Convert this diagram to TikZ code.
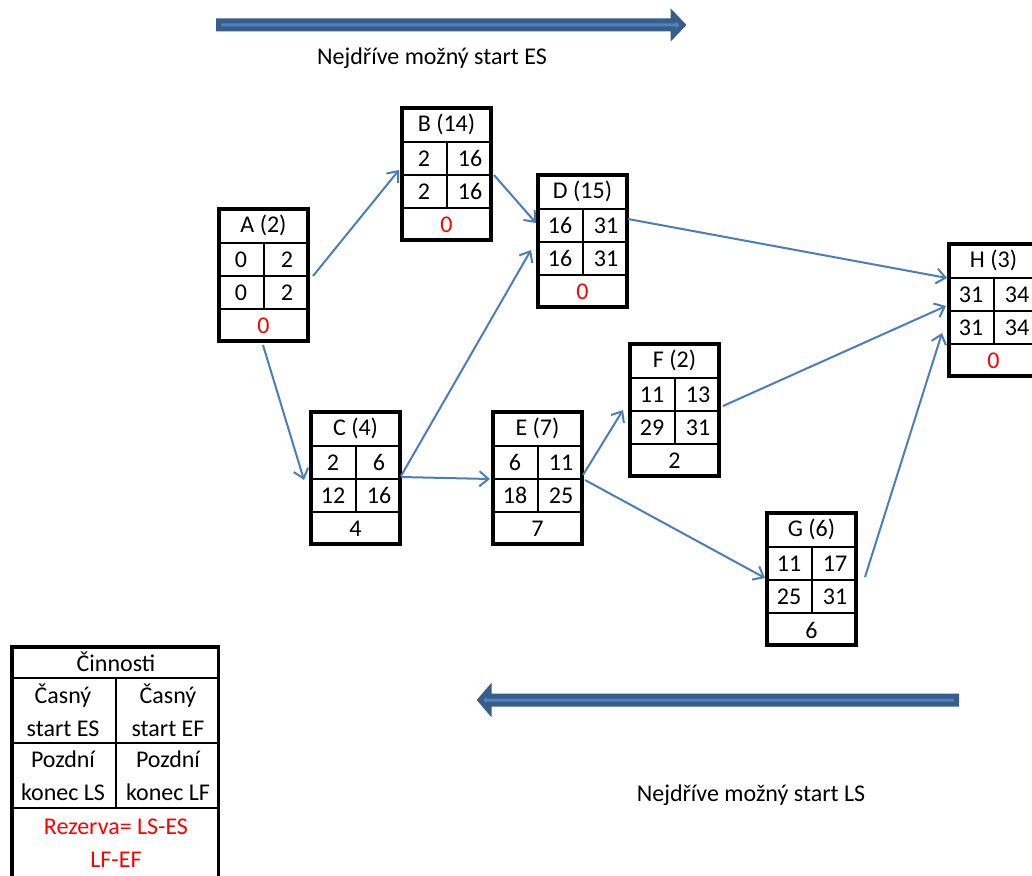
\documentclass[tikz,border=0pt]{standalone}
\usepackage{fontspec}
\setmainfont{Carlito}
\usetikzlibrary{arrows.meta,calc}
\definecolor{linkblue}{HTML}{4A7EBB}
\definecolor{bandfill}{HTML}{4F81BD}
\definecolor{bandedge}{HTML}{385D8A}
\newcommand\crit[1]{\textcolor{red}{#1}}
% activity box: name, x, y (outer top-left), title, ES, EF, LS, LF, slack
\newcommand\actbox[9]{%
  \begin{scope}[shift={(#2,#3)}]
    \draw[gridline] (0,36) -- (93,36) (0,69) -- (93,69) (0,102) -- (93,102)
      (47,36) -- (47,102);
    \node[boxframe] (#1) at (46.5,68) {};
    \node[celltext] (#1-t)  at (46.5,18.5) {#4};
    \node[celltext] (#1-es) at (24,52.5) {#5};
    \node[celltext] (#1-ef) at (70,52.5) {#6};
    \node[celltext] (#1-ls) at (24,85.5) {#7};
    \node[celltext] (#1-lf) at (70,85.5) {#8};
    \node[celltext] (#1-r)  at (46.5,119) {#9};
  \end{scope}}
\tikzset{
  gridline/.style={line width=2pt},
  boxframe/.style={draw, line width=4pt, minimum width=89pt, minimum height=132pt, inner sep=0pt},
  celltext/.style={inner sep=0pt, font=\fontsize{24}{28}\selectfont},
  legendtext/.style={inner sep=0pt, align=center, font=\fontsize{24}{33}\selectfont},
  bandtext/.style={inner sep=0pt, font=\fontsize{24}{28}\selectfont},
  link/.style={linkblue, line width=2pt, -{Straight Barb[length=9pt,width=15pt]}},
  band/.style={fill=bandfill, draw=bandedge, line width=5pt, line join=miter},
}
\begin{document}
\begin{tikzpicture}[x=1pt,y=-1pt]
\clip (0,0) rectangle (1032,875);
\fill[white] (0,0) rectangle (1032,875);

% direction bands
\draw[band] (218.5,21) -- (673,21) -- (673,14.5) -- (683,25) -- (673,35.5)
  -- (673,29) -- (218.5,29) -- cycle;
\node[bandtext] (esnote) at (432,58) {Nejdříve možný start ES};
\draw[band] (956.5,696) -- (489,696) -- (489,689.5) -- (480,700) -- (489,710.5)
  -- (489,704) -- (956.5,704) -- cycle;
\node[bandtext] (lsnote) at (751,795) {Nejdříve možný start LS};

% activities
\actbox{A}{217}{207}{A (2)}{0}{2}{0}{2}{\crit{0}}
\actbox{B}{400}{106}{B (14)}{2}{16}{2}{16}{\crit{0}}
\actbox{D}{536}{173}{D (15)}{16}{31}{16}{31}{\crit{0}}
\actbox{C}{309}{410}{C (4)}{2}{6}{12}{16}{4}
\actbox{E}{491}{410}{E (7)}{6}{11}{18}{25}{7}
\actbox{F}{628}{342}{F (2)}{11}{13}{29}{31}{2}
\actbox{G}{765}{511}{G (6)}{11}{17}{25}{31}{6}
\actbox{H}{947}{242}{H (3)}{31}{34}{31}{34}{\crit{0}}

% dependencies
\draw[link] ($(A.north west)+(96,69)$) -- ($(B.north west)+(-1,64)$);
\draw[link] ($(A.north west)+(46,138)$) -- ($(C.north west)+(-5,70)$);
\draw[link] ($(B.north west)+(94,69)$) -- ($(D.north west)+(0,50)$);
\draw[link] ($(C.north west)+(92,66)$) -- ($(D.north west)+(-5,77)$);
\draw[link] ($(C.north west)+(92,67)$) -- ($(E.north west)+(-1,69)$);
\draw[link] ($(D.north west)+(92,46)$) -- ($(H.north west)+(0,36)$);
\draw[link] ($(E.north west)+(92,65)$) -- ($(F.north west)+(-5,68)$);
\draw[link] ($(E.north west)+(94,70)$) -- ($(G.north west)+(0,67)$);
\draw[link] ($(F.north west)+(95,64)$) -- ($(H.north west)+(-1,64)$);
\draw[link] ($(G.north west)+(100,66)$) -- ($(H.north west)+(-5,91)$);

% legend
\draw[gridline] (10,678) -- (220,678) (10,743) -- (220,743) (10,808) -- (220,808)
  (116,678) -- (116,808);
\node[draw, line width=3.5pt, minimum width=206.5pt, minimum height=260pt, inner sep=0pt,
  anchor=north west] (key) at (10,645) {};
\node[legendtext] (key-t) at (116,662) {Činnosti};
\node[legendtext] (key-es) at (63,710.5) {Časný\\start ES};
\node[legendtext] (key-ef) at (168,710.5) {Časný\\start EF};
\node[legendtext] (key-ls) at (63,776) {Pozdní\\konec LS};
\node[legendtext] (key-lf) at (168,776) {Pozdní\\konec LF};
\node[legendtext, text=red] (key-r) at (116,843.5) {Rezerva= LS-ES\\LF-EF};
\end{tikzpicture}
\end{document}
